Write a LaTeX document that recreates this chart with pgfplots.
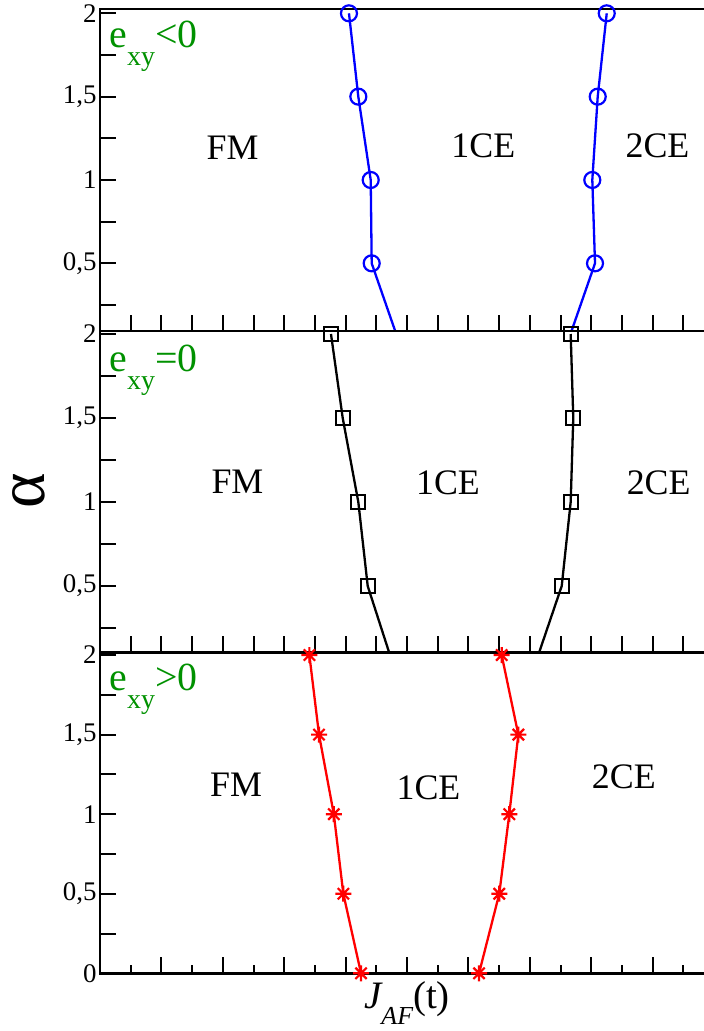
\documentclass[border=0pt]{standalone}
\usepackage{pgfplots}
\pgfplotsset{compat=1.18}
\usepackage{fontspec}
\setmainfont{Liberation Serif}
\definecolor{lblgreen}{RGB}{0,145,0}
\newcommand{\fs}[1]{\fontsize{#1}{#1}\selectfont}

\pgfdeclareplotmark{gstar}{%
  \pgfpathmoveto{\pgfqpoint{-\pgfplotmarksize}{0pt}}\pgfpathlineto{\pgfqpoint{\pgfplotmarksize}{0pt}}%
  \pgfpathmoveto{\pgfqpoint{0pt}{-\pgfplotmarksize}}\pgfpathlineto{\pgfqpoint{0pt}{\pgfplotmarksize}}%
  \pgfpathmoveto{\pgfqpoint{-.707\pgfplotmarksize}{-.707\pgfplotmarksize}}\pgfpathlineto{\pgfqpoint{.707\pgfplotmarksize}{.707\pgfplotmarksize}}%
  \pgfpathmoveto{\pgfqpoint{-.707\pgfplotmarksize}{.707\pgfplotmarksize}}\pgfpathlineto{\pgfqpoint{.707\pgfplotmarksize}{-.707\pgfplotmarksize}}%
  \pgfusepathqstroke}

\pgfplotsset{
  panel/.style={
    scale only axis, width=614bp, anchor=south west,
    xmin=0, xmax=10,
    xtick pos=left, ytick pos=left, tick align=inside,
    xticklabels={},
    axis line style={line width=2.5bp},
    every tick/.style={black, line width=2bp},
    major tick length=16bp, minor tick length=8bp,
    ticklabel style={font=\fs{27}},
    clip marker paths=false,
  },
  upper/.style={
    xtick={0,0.5,1,1.5,2,2.5,3,3.5,4,4.5,5,5.5,6,6.5,7,7.5,8,8.5,9,9.5,10},
    ytick={0.25,0.5,0.75,1,1.25,1.5,1.75,2},
    yticklabels={,\textrm{0,5},,\textrm{1},,\textrm{1,5},,\textrm{2}},
  },
  curve/.style={line width=2.3bp, no markers},
  pts/.style={only marks, mark options={line width=2.2bp, solid}},
}

\begin{document}
\begin{tikzpicture}
% ---------------- top panel: e_xy < 0 ----------------
\begin{axis}[panel, upper, at={(100bp,700bp)}, height=322bp, ymin=0.094, ymax=2.026]
\addplot[blue, curve] coordinates {(4.055,2) (4.207,1.5) (4.409,1) (4.425,0.5) (4.896,0)};
\addplot[blue, curve] coordinates {(8.253,2) (8.106,1.5) (8.018,1) (8.062,0.5) (7.591,0)};
\addplot[blue, pts, mark=o, mark size=8bp] coordinates {(4.055,2) (4.207,1.5) (4.409,1) (4.425,0.5)};
\addplot[blue, pts, mark=o, mark size=8bp] coordinates {(8.253,2) (8.106,1.5) (8.018,1) (8.062,0.5)};
\node[anchor=base west, inner sep=0, text=lblgreen] at (axis cs:0.151,1.796) {\fs{40}e\raisebox{-17.7bp}{\fs{28}xy}<0};
\node[anchor=base, inner sep=0, font=\fs{36}] at (axis cs:2.158,1.12) {FM};
\node[anchor=base, inner sep=0, font=\fs{36}] at (axis cs:6.243,1.132) {1CE};
\node[anchor=base, inner sep=0, font=\fs{36}] at (axis cs:9.08,1.132) {2CE};
\end{axis}
% ---------------- middle panel: e_xy = 0 ----------------
\begin{axis}[panel, upper, at={(100bp,379bp)}, height=321bp, ymin=0.107, ymax=2.018,
  ylabel={α}, ylabel style={font=\fs{68}, inner sep=0, at={(axis description cs:-0.1156,0.5016)}, anchor=center}]
\addplot[black, curve] coordinates {(3.762,2) (3.953,1.5) (4.207,1) (4.36,0.5) (4.801,0)};
\addplot[black, curve] coordinates {(7.666,2) (7.708,1.5) (7.666,1) (7.52,0.5) (7.055,0)};
\addplot[black, pts, mark=square, mark size=7bp] coordinates {(3.762,2) (3.953,1.5) (4.207,1) (4.36,0.5)};
\addplot[black, pts, mark=square, mark size=7bp] coordinates {(7.666,2) (7.708,1.5) (7.666,1) (7.52,0.5)};
\node[anchor=base west, inner sep=0, text=lblgreen] at (axis cs:0.151,1.776) {\fs{40}e\raisebox{-17.7bp}{\fs{28}xy}=0};
\node[anchor=base, inner sep=0, font=\fs{36}] at (axis cs:2.239,1.052) {FM};
\node[anchor=base, inner sep=0, font=\fs{36}] at (axis cs:5.668,1.042) {1CE};
\node[anchor=base, inner sep=0, font=\fs{36}] at (axis cs:9.099,1.046) {2CE};
\end{axis}
% ---------------- bottom panel: e_xy > 0 ----------------
\begin{axis}[panel, at={(100bp,57.7bp)}, height=320.3bp, ymin=0, ymax=2.013,
  xtick={0,1,2,3,4,5,6,7,8,9,10},
  minor xtick={0.5,1.5,2.5,3.5,4.5,5.5,6.5,7.5,8.5,9.5},
  ytick={0,0.25,0.5,0.75,1,1.25,1.5,1.75,2},
  yticklabels={\textrm{0},,\textrm{0,5},,\textrm{1},,\textrm{1,5},,\textrm{2}},
  xlabel={{\fs{39}\itshape J}\raisebox{-16.7bp}{\fs{26}\itshape AF}{\fs{39}(t)}},
  xlabel style={at={(axis description cs:0.5,-0.109)}, anchor=base, inner sep=0}]
\addplot[red, curve] coordinates {(3.41,2) (3.567,1.5) (3.808,1) (3.963,0.5) (4.251,0)};
\addplot[red, curve] coordinates {(6.542,2) (6.813,1.5) (6.666,1) (6.503,0.5) (6.173,0)};
\addplot[red, pts, mark=gstar, mark size=8bp] coordinates {(3.41,2) (3.567,1.5) (3.808,1) (3.963,0.5) (4.251,0)};
\addplot[red, pts, mark=gstar, mark size=8bp] coordinates {(6.542,2) (6.813,1.5) (6.666,1) (6.503,0.5) (6.173,0)};
\node[anchor=base west, inner sep=0, text=lblgreen] at (axis cs:0.151,1.777) {\fs{40}e\raisebox{-17.7bp}{\fs{28}xy}>0};
\node[anchor=base, inner sep=0, font=\fs{36}] at (axis cs:2.215,1.111) {FM};
\node[anchor=base, inner sep=0, font=\fs{36}] at (axis cs:5.35,1.09) {1CE};
\node[anchor=base, inner sep=0, font=\fs{36}] at (axis cs:8.531,1.159) {2CE};
\end{axis}
\pgfresetboundingbox
\path[use as bounding box] (0,0) rectangle (704bp,1031bp);
\end{tikzpicture}
\end{document}
